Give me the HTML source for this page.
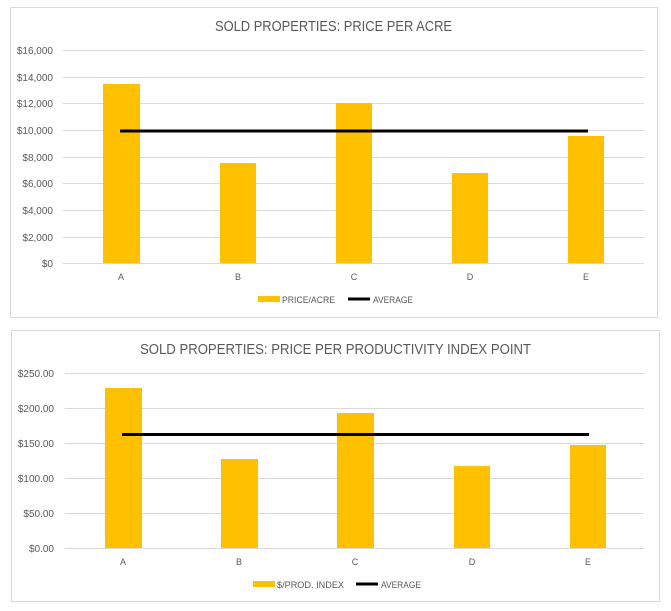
<!DOCTYPE html>
<html><head><style>
body{margin:0;background:#fff;width:671px;height:606px;overflow:hidden}
svg{font-family:"Liberation Sans",sans-serif}
</style></head><body>
<svg width="671" height="606" xmlns="http://www.w3.org/2000/svg">
<rect x="10.5" y="7.5" width="647" height="310" fill="#fff" stroke="#d9d9d9"/>
<text x="215" y="31" font-size="15" fill="#595959" textLength="237" lengthAdjust="spacingAndGlyphs">SOLD PROPERTIES: PRICE PER ACRE</text>
<g stroke="#d9d9d9" stroke-width="1">
<line x1="63" x2="644" y1="50.5" y2="50.5"/><line x1="63" x2="644" y1="77.5" y2="77.5"/>
<line x1="63" x2="644" y1="103.5" y2="103.5"/><line x1="63" x2="644" y1="130.5" y2="130.5"/>
<line x1="63" x2="644" y1="157.5" y2="157.5"/><line x1="63" x2="644" y1="183.5" y2="183.5"/>
<line x1="63" x2="644" y1="210.5" y2="210.5"/><line x1="63" x2="644" y1="237.5" y2="237.5"/>
<line x1="63" x2="644" y1="263.5" y2="263.5"/></g>
<g font-size="10" fill="#595959" text-anchor="end">
<text x="53" y="54">$16,000</text><text x="53" y="81">$14,000</text><text x="53" y="107">$12,000</text>
<text x="53" y="134">$10,000</text><text x="53" y="161">$8,000</text><text x="53" y="187">$6,000</text>
<text x="53" y="214">$4,000</text><text x="53" y="241">$2,000</text><text x="53" y="267">$0</text></g>
<g fill="#ffc000">
<rect x="103" y="84" width="37" height="179"/><rect x="220" y="163" width="36" height="100"/>
<rect x="336" y="103" width="36" height="160"/><rect x="452" y="173" width="36" height="90"/>
<rect x="568" y="136" width="36" height="127"/></g>
<line x1="120" x2="588" y1="131" y2="131" stroke="#000" stroke-width="3"/>
<g font-size="9" fill="#595959" text-anchor="middle">
<text x="121" y="280">A</text><text x="238" y="280">B</text><text x="354" y="280">C</text><text x="470" y="280">D</text><text x="586" y="280">E</text></g>
<rect x="258" y="296" width="22" height="6" fill="#ffc000"/>
<text x="282" y="303" font-size="9" fill="#595959" textLength="53" lengthAdjust="spacingAndGlyphs">PRICE/ACRE</text>
<line x1="348" x2="370" y1="299" y2="299" stroke="#000" stroke-width="3"/>
<text x="373" y="303" font-size="9" fill="#595959" textLength="40" lengthAdjust="spacingAndGlyphs">AVERAGE</text>

<rect x="11.5" y="330.5" width="648" height="271" fill="#fff" stroke="#d9d9d9"/>
<text x="140" y="354" font-size="15" fill="#595959" textLength="391" lengthAdjust="spacingAndGlyphs">SOLD PROPERTIES: PRICE PER PRODUCTIVITY INDEX  POINT</text>
<g stroke="#d9d9d9">
<line x1="65" x2="644" y1="373.5" y2="373.5"/><line x1="65" x2="644" y1="408.5" y2="408.5"/>
<line x1="65" x2="644" y1="443.5" y2="443.5"/><line x1="65" x2="644" y1="478.5" y2="478.5"/>
<line x1="65" x2="644" y1="513.5" y2="513.5"/><line x1="65" x2="644" y1="548.5" y2="548.5"/></g>
<g font-size="10" fill="#595959" text-anchor="end">
<text x="54" y="377">$250.00</text><text x="54" y="412">$200.00</text><text x="54" y="447">$150.00</text>
<text x="54" y="482">$100.00</text><text x="54" y="517">$50.00</text><text x="54" y="552">$0.00</text></g>
<g fill="#ffc000">
<rect x="105" y="388" width="37" height="160"/><rect x="221" y="459" width="37" height="89"/>
<rect x="337" y="413" width="37" height="135"/><rect x="454" y="466" width="36" height="82"/>
<rect x="570" y="445" width="36" height="103"/></g>
<line x1="122" x2="589" y1="434.5" y2="434.5" stroke="#000" stroke-width="3"/>
<g font-size="9" fill="#595959" text-anchor="middle">
<text x="123" y="565">A</text><text x="239" y="565">B</text><text x="355" y="565">C</text><text x="472" y="565">D</text><text x="588" y="565">E</text></g>
<rect x="253" y="581" width="22" height="6" fill="#ffc000"/>
<text x="277" y="588" font-size="9" fill="#595959" textLength="67" lengthAdjust="spacingAndGlyphs">$/PROD. INDEX</text>
<line x1="356" x2="378" y1="584" y2="584" stroke="#000" stroke-width="3"/>
<text x="381" y="588" font-size="9" fill="#595959" textLength="40" lengthAdjust="spacingAndGlyphs">AVERAGE</text>
</svg>
</body></html>
